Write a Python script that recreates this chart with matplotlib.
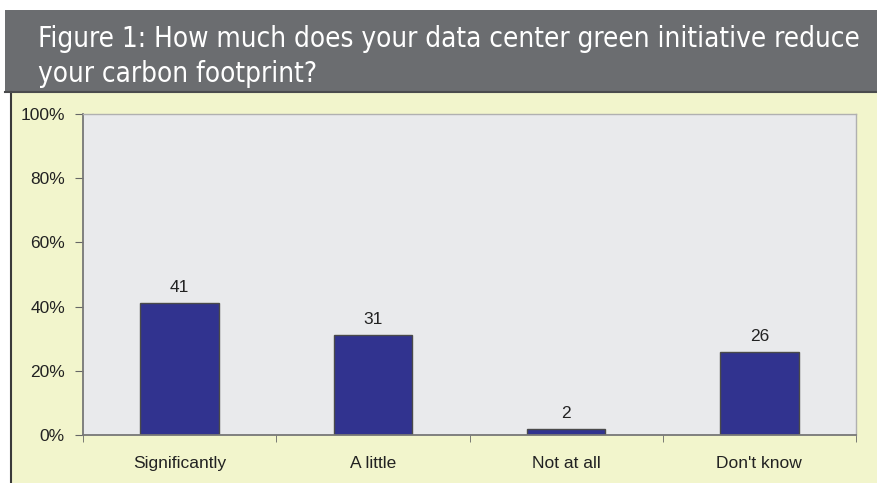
import matplotlib
matplotlib.use("Agg")
import matplotlib.pyplot as plt
from matplotlib.patches import Rectangle
from matplotlib.ticker import FixedLocator

categories = ["Significantly", "A little", "Not at all", "Don't know"]
values = [41, 31, 2, 26]
ytick_values = [0, 20, 40, 60, 80, 100]
ytick_labels = ["0%", "20%", "40%", "60%", "80%", "100%"]
title_lines = ["Figure 1: How much does your data center green initiative reduce",
               "your carbon footprint?"]

W, H = 877, 483
fig = plt.figure(figsize=(W / 100, H / 100), dpi=100)
fig.patch.set_facecolor("white")

def fx(x): return x / W
def fy(y): return 1 - y / H

# yellow panel
fig.patches.append(Rectangle((fx(10), 0), fx(W - 10), fy(92), transform=fig.transFigure,
                             facecolor="#f2f5cc", edgecolor="none", zorder=-10))
fig.add_artist(plt.Line2D([fx(10.5), fx(10.5)], [0, fy(92)], transform=fig.transFigure,
                          color="#3a3a3a", lw=1.5, zorder=-5))
# header
fig.patches.append(Rectangle((fx(5), fy(92)), fx(W - 5), fy(10) - fy(92), transform=fig.transFigure,
                             facecolor="#6b6d70", edgecolor="none", zorder=-10))
fig.add_artist(plt.Line2D([fx(5), 1], [fy(92), fy(92)], transform=fig.transFigure,
                          color="#4a4b4d", lw=1.5, zorder=-5))

fig.text(fx(38), fy(47), title_lines[0], color="white", fontsize=20,
         family="DejaVu Sans", fontstretch="condensed", va="baseline", ha="left")
fig.text(fx(38), fy(82), title_lines[1], color="white", fontsize=20,
         family="DejaVu Sans", fontstretch="condensed", va="baseline", ha="left")

ax = fig.add_axes([fx(83), fy(435), fx(856 - 83), fy(114) - fy(435)])
ax.set_facecolor("#e9eaec")
x = list(range(len(categories)))
ax.bar(x, values, width=0.405, color="#31338f", edgecolor="#4a4a4a", linewidth=1.0, zorder=2)
for xi, v in zip(x, values):
    ax.text(xi, v + 2.5, str(v), ha="center", va="bottom", fontsize=12.5,
            family="Liberation Sans", color="#222222")

ax.set_xlim(-0.5, len(categories) - 0.5)
ax.set_ylim(0, 100)
ax.set_yticks(ytick_values)
ax.set_yticklabels(ytick_labels, family="Liberation Sans", fontsize=12.5, color="#222222")
ax.set_xticks(x)
ax.set_xticklabels(categories, family="Liberation Sans", fontsize=12.5, color="#222222")
ax.tick_params(axis="x", length=0, pad=15)
ax.xaxis.set_minor_locator(FixedLocator([-0.5, 0.5, 1.5, 2.5, 3.5]))
ax.tick_params(axis="x", which="minor", length=5, color="#666666", direction="out")
ax.tick_params(axis="y", length=6, color="#666666", direction="out", pad=7)

for s in ["top", "right"]:
    ax.spines[s].set_color("#b0b0b0")
    ax.spines[s].set_linewidth(1.0)
for s in ["left", "bottom"]:
    ax.spines[s].set_color("#777777")
    ax.spines[s].set_linewidth(1.3)

fig.savefig("out.png", dpi=100, facecolor=fig.get_facecolor())
